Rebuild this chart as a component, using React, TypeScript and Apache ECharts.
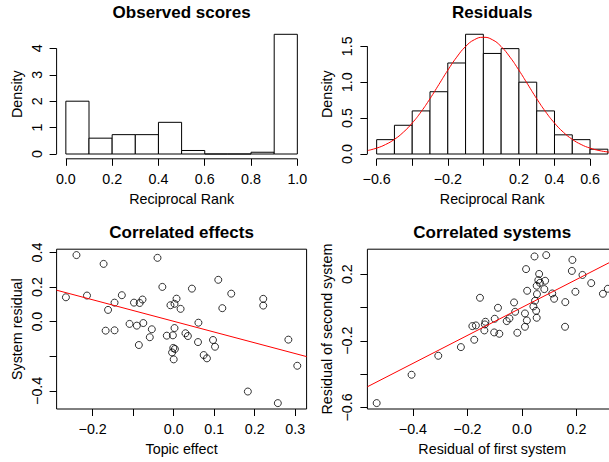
import React, { useEffect, useRef } from "react";
import * as echarts from "echarts";

const FONT = "'Liberation Sans', Arial, Helvetica, sans-serif";

// ---------- Panel 1: Observed scores ----------
const obsBreaks = [0, 0.1, 0.2, 0.3, 0.4, 0.5, 0.6, 0.7, 0.8, 0.9, 1.0];
const obsDensity = [2.0, 0.6, 0.733, 0.733, 1.2, 0.133, 0, 0, 0.067, 4.533];
const obsXTicks = [0, 0.2, 0.4, 0.6, 0.8, 1.0];
const obsXLabels = [0, 0.2, 0.4, 0.6, 0.8, 1.0];
const obsYTicks = [0, 1, 2, 3, 4];
const obsXRange = [-0.04, 1.04];
const obsYRange = [-0.1813, 4.7147];

// ---------- Panel 2: Residuals ----------
const resBreaks = [-0.6, -0.5, -0.4, -0.3, -0.2, -0.1, 0, 0.1, 0.2, 0.3, 0.4, 0.5, 0.6, 0.7];
const resDensity = [0.2, 0.4, 0.6, 0.867, 1.267, 1.667, 1.4, 1.467, 1.0, 0.6, 0.267, 0.2, 0.067];
const resXTicks = [-0.6, -0.4, -0.2, 0, 0.2, 0.4, 0.6];
const resXLabels = [-0.6, -0.2, 0.2, 0.4, 0.6];
const resYTicks = [0, 0.5, 1.0, 1.5];
const resXRange = [-0.652, 0.752];
const resYRange = [-0.0667, 1.7333];
const curveX = [-0.65, -0.6, -0.55, -0.5, -0.45, -0.4, -0.35, -0.3, -0.25, -0.2, -0.15, -0.1, -0.05, 0, 0.05, 0.1, 0.15, 0.2, 0.25, 0.3, 0.35, 0.4, 0.45, 0.5, 0.55, 0.6, 0.65, 0.7, 0.75];
const curveY = [0.049, 0.082, 0.132, 0.204, 0.303, 0.431, 0.588, 0.77, 0.968, 1.166, 1.348, 1.496, 1.592, 1.625, 1.592, 1.496, 1.348, 1.166, 0.968, 0.77, 0.588, 0.431, 0.303, 0.204, 0.132, 0.082, 0.049, 0.028, 0.015];

// ---------- Panel 3: Correlated effects ----------
const topicEffect = [-0.266, -0.24, -0.173, -0.214, -0.128, -0.146, -0.162, -0.168, -0.146, -0.109, -0.091, -0.075, -0.098, -0.084, -0.077, -0.086, -0.054, -0.059, -0.04, -0.028, -0.008, 0.007, 0.002, 0.017, -0.017, -0.002, 0.002, -0.001, -0.004, 0.003, 0.0, 0.045, 0.11, 0.142, 0.12, 0.221, 0.221, 0.061, 0.029, 0.035, 0.06, 0.097, 0.102, 0.074, 0.082, 0.283, 0.305, 0.183, 0.257];
const systemResidual = [0.141, 0.385, 0.334, 0.151, 0.153, 0.11, 0.068, -0.052, -0.05, -0.013, -0.023, -0.008, 0.11, 0.108, 0.128, -0.135, -0.044, -0.09, 0.369, 0.201, 0.095, 0.133, 0.103, 0.074, -0.081, -0.079, -0.037, -0.152, -0.178, -0.158, -0.218, 0.191, 0.242, 0.162, 0.078, 0.132, 0.093, -0.006, -0.067, -0.083, -0.118, -0.106, -0.145, -0.193, -0.212, -0.104, -0.255, -0.404, -0.471];
const fit3X = [-0.289, 0.328];
const fit3Y = [0.182, -0.202];
const ceXTicks = [-0.2, -0.1, 0, 0.1, 0.2, 0.3];
const ceXLabels = [-0.2, 0, 0.1, 0.2, 0.3];
const ceYTicks = [-0.4, -0.2, 0, 0.2, 0.4];
const ceYLabels = [-0.4, 0, 0.2, 0.4];
const ceXRange = [-0.289, 0.328];
const ceYRange = [-0.505, 0.419];

// ---------- Panel 4: Correlated systems ----------
const firstSystem = [-0.533, -0.405, -0.307, -0.224, -0.175, -0.154, -0.182, -0.169, -0.134, -0.136, -0.138, -0.102, -0.083, -0.1, -0.088, -0.056, -0.046, -0.029, -0.025, -0.017, 0.015, 0.019, 0.011, 0.018, 0.011, 0.046, 0.089, 0.063, 0.06, 0.066, 0.085, 0.054, 0.082, 0.055, 0.048, 0.042, 0.052, 0.054, 0.111, 0.118, 0.159, 0.158, 0.185, 0.183, 0.196, 0.222, 0.254, 0.297, 0.315];
const secondSystem = [-0.574, -0.404, -0.29, -0.238, -0.194, 0.058, -0.112, -0.108, -0.086, -0.102, -0.138, -0.15, -0.158, -0.068, -0.002, -0.082, -0.066, 0.03, -0.026, -0.152, 0.23, 0.1, -0.036, -0.078, -0.116, 0.306, 0.314, 0.201, 0.164, 0.148, 0.16, 0.13, 0.11, 0.08, 0.04, 0.006, -0.02, -0.062, 0.084, 0.052, 0.032, -0.116, 0.285, 0.219, 0.094, 0.195, 0.146, 0.082, 0.112];
const fit4X = [-0.567, 0.349];
const fit4Y = [-0.476, 0.293];
const csXTicks = [-0.4, -0.2, 0, 0.2];
const csXLabels = [-0.4, -0.2, 0, 0.2];
const csYTicks = [-0.6, -0.4, -0.2, 0, 0.2];
const csYLabels = [-0.6, -0.2, 0.2];
const csXRange = [-0.567, 0.349];
const csYRange = [-0.6095, 0.3495];

const fmt1 = (v: number) => v.toFixed(1).replace("-", "\u2212");
const fmt0 = (v: number) => String(Math.round(v));

const GRIDS = [
  { left: 56.6, top: 29.5, width: 250, height: 129.3 },
  { left: 367.4, top: 29.5, width: 249.7, height: 129.3 },
  { left: 56.6, top: 249.2, width: 250, height: 159.8 },
  { left: 367.4, top: 249.2, width: 249.7, height: 159.8 },
];

const TICK = 7;
const LAB = 14.3;

function makeAxis(
  dim: "x" | "y",
  idx: number,
  range: number[],
  ticks: number[],
  labels: number[],
  name: string,
  fmt: (v: number) => string
) {
  return {
    type: "value",
    gridIndex: idx,
    min: range[0],
    max: range[1],
    name,
    nameLocation: "middle",
    nameGap: 33,
    nameTextStyle: { color: "#000", fontSize: LAB, fontFamily: FONT },
    axisLine: { show: false, onZero: false },
    axisTick: {
      show: true,
      inside: false,
      length: TICK,
      customValues: ticks,
      lineStyle: { color: "#000", width: 1 },
    },
    axisLabel: {
      show: true,
      customValues: labels,
      formatter: fmt,
      margin: 13,
      rotate: dim === "y" ? 90 : 0,
      color: "#000",
      fontSize: LAB,
      fontFamily: FONT,
    },
    splitLine: { show: false },
  };
}

function histSeries(idx: number, breaks: number[], dens: number[]) {
  const data = dens.map((d, i) => [breaks[i], breaks[i + 1], d]);
  return {
    type: "custom",
    xAxisIndex: idx,
    yAxisIndex: idx,
    silent: true,
    clip: false,
    encode: { x: [0, 1], y: 2 },
    data,
    renderItem: (params: any, api: any) => {
      const p0 = api.coord([api.value(0), 0]);
      const p1 = api.coord([api.value(1), api.value(2)]);
      return {
        type: "rect",
        shape: { x: p0[0], y: p1[1], width: p1[0] - p0[0], height: p0[1] - p1[1] },
        style: { fill: "#fff", stroke: "#000", lineWidth: 1 },
      };
    },
  };
}

function segSeries(idx: number, pts: number[][], color = "#000") {
  return {
    type: "line",
    xAxisIndex: idx,
    yAxisIndex: idx,
    data: pts,
    symbol: "none",
    silent: true,
    clip: false,
    lineStyle: { color, width: 1 },
    z: 5,
  };
}

function scatterSeries(idx: number, xs: number[], ys: number[]) {
  return {
    type: "scatter",
    xAxisIndex: idx,
    yAxisIndex: idx,
    data: xs.map((x, i) => [x, ys[i]]),
    symbol: "circle",
    symbolSize: 7,
    silent: true,
    itemStyle: { color: "rgba(0,0,0,0)", borderColor: "#000", borderWidth: 1 },
    z: 3,
  };
}

const titleStyle = { color: "#000", fontSize: 17, fontWeight: "bold" as const, fontFamily: FONT };

export default function App() {
  const ref = useRef<HTMLDivElement>(null);
  useEffect(() => {
    if (!ref.current) return;
    const chart = echarts.init(ref.current, undefined, { renderer: "svg" });
    const option: any = {
      animation: false,
      backgroundColor: "#fff",
      title: [
        { text: "Observed scores", left: 181.6, top: 4, textAlign: "center", padding: 0, textStyle: titleStyle },
        { text: "Residuals", left: 492.2, top: 4, textAlign: "center", padding: 0, textStyle: titleStyle },
        { text: "Correlated effects", left: 181.6, top: 223.7, textAlign: "center", padding: 0, textStyle: titleStyle },
        { text: "Correlated systems", left: 492.2, top: 223.7, textAlign: "center", padding: 0, textStyle: titleStyle },
      ],
      grid: GRIDS.map((g, i) => ({
        ...g,
        show: i >= 2,
        borderColor: "#000",
        borderWidth: 1,
        backgroundColor: "rgba(0,0,0,0)",
        containLabel: false,
      })),
      xAxis: [
        makeAxis("x", 0, obsXRange, obsXTicks, obsXLabels, "Reciprocal Rank", fmt1),
        makeAxis("x", 1, resXRange, resXTicks, resXLabels, "Reciprocal Rank", fmt1),
        makeAxis("x", 2, ceXRange, ceXTicks, ceXLabels, "Topic effect", fmt1),
        makeAxis("x", 3, csXRange, csXTicks, csXLabels, "Residual of first system", fmt1),
      ],
      yAxis: [
        makeAxis("y", 0, obsYRange, obsYTicks, obsYTicks, "Density", fmt0),
        makeAxis("y", 1, resYRange, resYTicks, resYTicks, "Density", fmt1),
        makeAxis("y", 2, ceYRange, ceYTicks, ceYLabels, "System residual", fmt1),
        makeAxis("y", 3, csYRange, csYTicks, csYLabels, "Residual of second system", fmt1),
      ],
      series: [
        histSeries(0, obsBreaks, obsDensity),
        segSeries(0, [[obsXTicks[0], obsYRange[0]], [obsXTicks[obsXTicks.length - 1], obsYRange[0]]]),
        segSeries(0, [[obsXRange[0], obsYTicks[0]], [obsXRange[0], obsYTicks[obsYTicks.length - 1]]]),
        histSeries(1, resBreaks, resDensity),
        segSeries(1, [[resXTicks[0], resYRange[0]], [resXTicks[resXTicks.length - 1], resYRange[0]]]),
        segSeries(1, [[resXRange[0], resYTicks[0]], [resXRange[0], resYTicks[resYTicks.length - 1]]]),
        {
          type: "line",
          xAxisIndex: 1,
          yAxisIndex: 1,
          data: curveX.map((x, i) => [x, curveY[i]]),
          symbol: "none",
          smooth: true,
          silent: true,
          lineStyle: { color: "#ff0000", width: 1 },
          z: 6,
        },
        scatterSeries(2, topicEffect, systemResidual),
        {
          ...segSeries(2, fit3X.map((x, i) => [x, fit3Y[i]]), "#ff0000"),
          clip: true,
        },
        scatterSeries(3, firstSystem, secondSystem),
        {
          ...segSeries(3, fit4X.map((x, i) => [x, fit4Y[i]]), "#ff0000"),
          clip: true,
        },
      ],
    };
    chart.setOption(option);
    return () => chart.dispose();
  }, []);
  return (
    <div
      style={{
        position: "absolute",
        left: 0,
        top: 0,
        width: 609,
        height: 462,
        overflow: "hidden",
        background: "#fff",
      }}
    >
      <div ref={ref} style={{ width: 630, height: 462 }} />
    </div>
  );
}
